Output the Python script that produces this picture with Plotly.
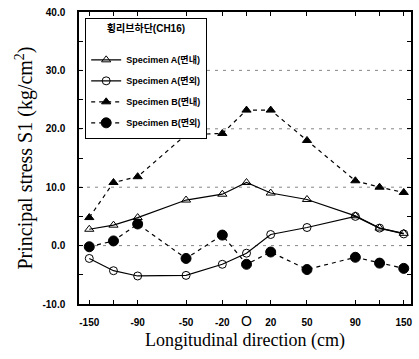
import plotly.graph_objects as go

# Measuring stations along the rib (cm) and their tick labels
station_pos = [-130, -90, -50, -20, 0, 20, 50, 90, 130]
station_labels = ["-150", "-90", "-50", "-20",
                  "<span style='font-size:14px;font-weight:normal'>O</span>",
                  "20", "50", "90", "150"]
unlabeled_pos = [-110, 110]
all_pos = [-130, -110, -90, -50, -20, 0, 20, 50, 90, 110, 130]

# Principal stress S1 (kg/cm2)
spec_a_in = [2.8, 3.5, 4.8, 7.8, 8.8, 10.8, 9.0, 7.9, 5.1, 3.0, 2.1]
spec_a_out = [-2.2, -4.3, -5.2, -5.1, -3.2, -1.3, 1.9, 3.1, 5.0, 3.0, 2.0]
spec_b_in = [4.8, 10.8, 11.8, 19.0, 19.2, 23.2, 23.2, 18.0, 11.1, 10.0, 9.1]
spec_b_out = [-0.2, 0.8, 3.7, -2.2, 1.8, -3.2, -1.1, -4.1, -2.0, -3.0, -3.9]

series = [
    ("Specimen A(면내)", spec_a_in, "solid", "triangle-up-open", 8),
    ("Specimen A(면외)", spec_a_out, "solid", "circle-open", 8),
    ("Specimen B(면내)", spec_b_in, "4px,4px", "triangle-up", 8),
    ("Specimen B(면외)", spec_b_out, "4px,4px", "circle", 10),
]

fig = go.Figure()
for i, (name, vals, dash, sym, size) in enumerate(series):
    fig.add_trace(go.Scatter(
        x=all_pos, y=vals, name=name, mode="lines+markers", legendgroup=f"g{i}",
        line=dict(color="black", width=1.2, dash=dash),
        marker=dict(symbol=sym, size=size, color="black",
                    line=dict(color="black", width=1)),
    ))

tick_font = dict(family="Liberation Sans Narrow, Liberation Sans", size=10,
                 color="black", weight="bold")

fig.update_layout(
    width=419, height=359,
    margin=dict(l=79, r=6, t=12, b=55),
    paper_bgcolor="white", plot_bgcolor="white",
    font=dict(family="Liberation Sans, Noto Sans CJK KR", color="black"),
    showlegend=True,
    legend=dict(
        x=0.018, y=0.979, xanchor="left", yanchor="top",
        bgcolor="white", bordercolor="black", borderwidth=1.2,
        font=dict(family="Liberation Sans, Noto Sans CJK KR", size=9, color="black", weight="bold"),
        title=dict(text="<b>횡리브하단(CH16)</b><br> ", side="top center",
                   font=dict(family="Liberation Sans, Noto Sans CJK KR", size=10)),
        itemwidth=30, tracegroupgap=2,
    ),
    xaxis=dict(
        range=[-138.5, 136], tickmode="array",
        tickvals=station_pos, ticktext=station_labels,
        ticks="inside", ticklen=4, tickwidth=1.2, tickcolor="black",
        minor=dict(tickvals=unlabeled_pos, ticks="inside", ticklen=4,
                   tickcolor="black", tickwidth=1.2, showgrid=False),
        showline=True, linecolor="black", linewidth=1.5, mirror="ticks",
        showgrid=False, zeroline=False, tickfont=tick_font, ticklabelstandoff=8,
        title=dict(text="Longitudinal direction (cm)",
                   font=dict(family="Liberation Serif", size=18), standoff=6),
    ),
    yaxis=dict(
        range=[-10, 40], tickmode="array",
        tickvals=[-10, 0, 10, 20, 30, 40],
        ticktext=["-10.0", "0.0", "10.0", "20.0", "30.0", "40.0"],
        ticks="inside", ticklen=4, tickwidth=1.2, tickcolor="black",
        minor=dict(tickvals=[-5, 5, 15, 25, 35], ticks="inside", ticklen=4,
                   tickcolor="black", tickwidth=1.2, showgrid=False),
        showline=True, linecolor="black", linewidth=1.5, mirror="ticks",
        showgrid=False, zeroline=False, tickfont=tick_font, ticklabelstandoff=10,
        title=dict(text="Principal stress S1 (kg/cm<sup>2</sup>)",
                   font=dict(family="Liberation Serif", size=20), standoff=4),
    ),
)

# dashed reference lines at the interior major ticks
for yv in [0, 10, 20, 30]:
    fig.add_shape(type="line", xref="paper", yref="y", x0=0, x1=1, y0=yv, y1=yv,
                  line=dict(color="#666666", width=0.8, dash="3px,5px"), layer="below")

fig.write_html("out.html")
